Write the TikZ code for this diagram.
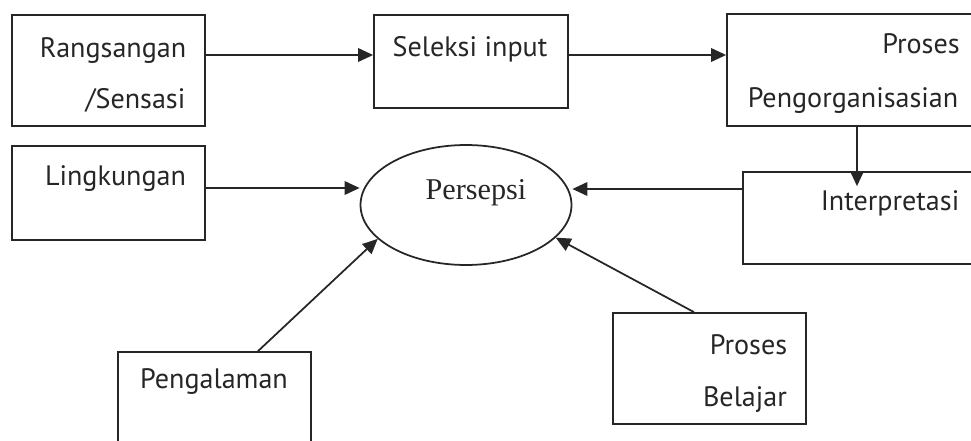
\documentclass[tikz,border=0pt]{standalone}
\usepackage{fontspec}
\setmainfont{PT Sans}
\newfontfamily\serifpers{Liberation Serif}
\usetikzlibrary{arrows.meta,fit,shapes.geometric}

\begin{document}
\begin{tikzpicture}[x=0.02cm,y=-0.02cm,
        box/.style={draw=black!85,line width=1pt,inner sep=0pt},
        txt/.style={inner sep=0pt,anchor=base,font=\fontsize{16pt}{20pt}\selectfont,text=black!85},
        arr/.style={draw=black!85,line width=1pt,-{Triangle[length=3mm,width=2.7mm]}}]
        \useasboundingbox (0,0) rectangle (971,440);

        % boxes
        \node[box,fit={(12,15) (205,126)}]  (R) {};
        \node[box,fit={(374,15) (568,108)}] (S) {};
        \node[box,fit={(727,14) (990,126)}] (O) {};
        \node[box,fit={(12,146) (205,240)}] (L) {};
        \node[box,fit={(743,172) (990,264)}] (I) {};
        \node[box,fit={(118,352) (311,470)}] (G) {};
        \node[box,fit={(613,313) (806,424)}] (B) {};
        \node[box,shape=ellipse,minimum width=4.22cm,minimum height=2.4cm] (P) at (466,205) {};

        % texts
        \node[txt] (R1) at (113,57)    {Rangsangan};
        \node[txt] (R2) at (135.5,108) {/Sensasi};
        \node[txt] (S1) at (470,56)    {Seleksi input};
        \node[txt] (O1) at (921,53)    {Proses};
        \node[txt] (O2) at (853,107)   {Pengorganisasian};
        \node[txt] (L1) at (115.5,185) {Lingkungan};
        \node[txt,font=\serifpers\fontsize{17.2pt}{20pt}\selectfont] (P1) at (476,199) {Persepsi};
        \node[txt] (I1) at (890,210)   {Interpretasi};
        \node[txt] (G1) at (214,388)   {Pengalaman};
        \node[txt] (B1) at (748.5,354) {Proses};
        \node[txt] (B2) at (745,406)   {Belajar};

        % arrows
        \draw [arr](R.east |- 0,55) -- (S.west |- 0,55);
        \draw [arr](S.east |- 0,55) -- (O.west |- 0,55);
        \draw [arr,shorten >=-0.3cm](O.south -| 857,0) -- (I.north -| 857,0);
        \draw [arr](I.west |- 0,189) -- (P.east |- 0,189);
        \draw [arr](L.east |- 0,188) -- (P.west |- 0,188);
        \draw [arr](G.north -| 258,0) -- (P.201);
        \draw [arr](B.north -| 694,0) -- (P.340);
\end{tikzpicture}
\end{document}
